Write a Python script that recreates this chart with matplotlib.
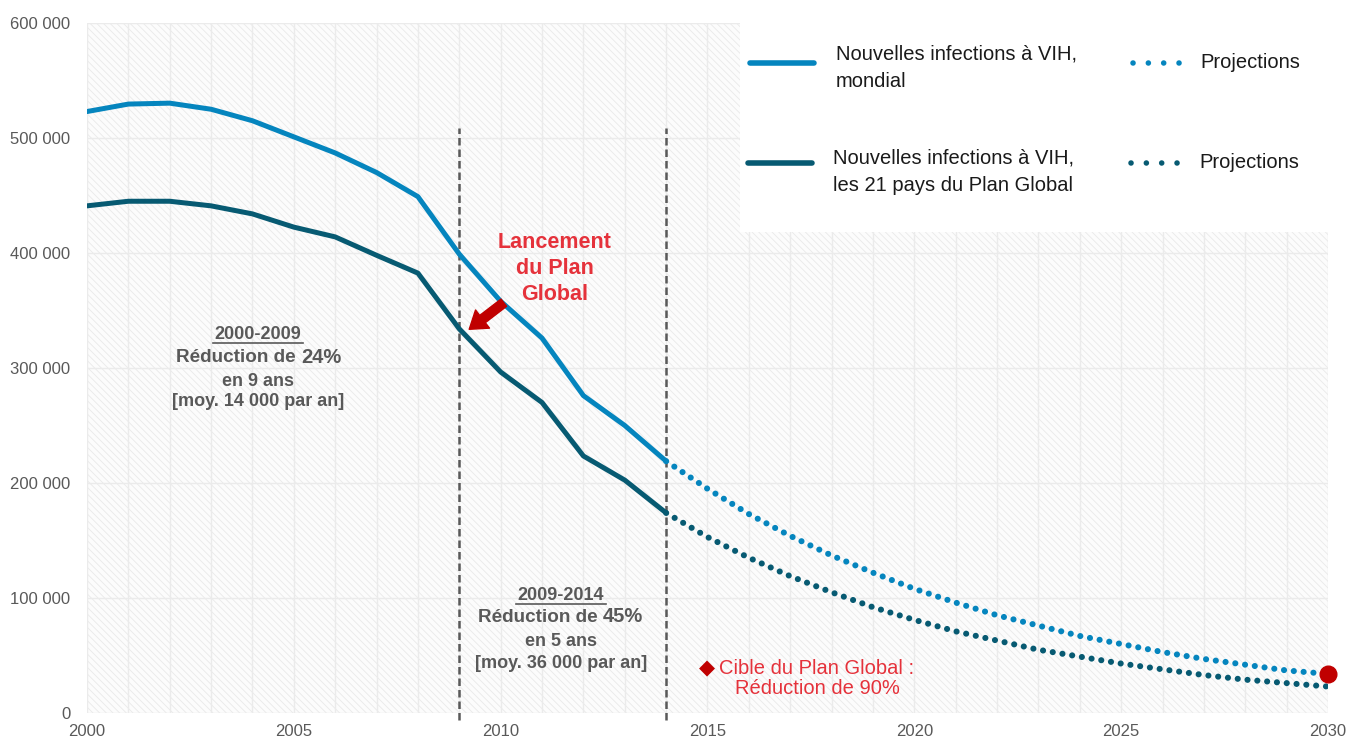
import matplotlib
matplotlib.use("Agg")
import matplotlib.pyplot as plt
from matplotlib.patches import Rectangle, FancyArrowPatch
from matplotlib.lines import Line2D
from matplotlib.ticker import FuncFormatter

plt.rcParams['font.family'] = ['Liberation Sans', 'DejaVu Sans']
plt.rcParams['hatch.linewidth'] = 0.6
plt.rcParams['hatch.color'] = '#e9e9e9'

# observed values
years_obs = list(range(2000, 2015))
world_obs = [523000, 529500, 530300, 525000, 515000, 501000, 487000, 470000,
             449000, 399000, 358000, 326000, 276000, 250000, 219000]
plan_obs = [441000, 445000, 445000, 441000, 434000, 422500, 414000, 398000,
            382500, 334000, 296500, 270000, 223500, 202500, 174000]

# projections
years_proj = list(range(2014, 2031))
world_proj = [219000, 195000, 173000, 154000, 137000, 122000, 108000, 96000,
              85000, 76000, 67000, 60000, 53000, 47000, 42000, 37000, 34000]
plan_proj = [174000, 153000, 135000, 119000, 105000, 92000, 81000, 71000,
             63000, 55000, 49000, 43000, 38000, 33000, 29000, 26000, 23000]

target_year = 2030
target_value = 34000
milestones = [2009, 2014]

blue = '#0585BE'
teal = '#075A72'
grey = '#595959'
red = '#E5323B'
darkred = '#C00000'

W, H = 1346, 740


def fx(px):
    return px / W


def fy(py):
    return 1 - py / H


fig = plt.figure(figsize=(W / 100, H / 100), dpi=100)
ax = fig.add_axes([fx(87), fy(713), (1328 - 87) / W, (713 - 23) / H])

# hatched background
ax.add_patch(Rectangle((0, 0), 1, 1, transform=ax.transAxes, facecolor='#fcfcfc',
                       edgecolor='#e9e9e9', hatch='\\\\\\\\\\', lw=0, zorder=0))

ax.set_xlim(2000, 2030)
ax.set_ylim(0, 600000)
ax.set_xticks(range(2000, 2031, 5))
ax.set_yticks(range(0, 600001, 100000))
ax.set_xticks(range(2000, 2031), minor=True)
ax.yaxis.set_major_formatter(FuncFormatter(lambda v, p: '0' if v == 0 else f'{int(v):,}'.replace(',', ' ')))
ax.grid(True, which='both', axis='x', color='#ebebeb', lw=1, zorder=1)
ax.grid(True, which='major', axis='y', color='#ebebeb', lw=1, zorder=1)
ax.set_axisbelow(True)
for s in ax.spines.values():
    s.set_visible(False)
ax.tick_params(which='both', length=0)
ax.tick_params(axis='y', pad=12, labelsize=12, labelcolor=grey)
ax.tick_params(axis='x', pad=8, labelsize=12, labelcolor=grey)

# milestone lines
ax.vlines(milestones, -6000, 508700, colors=grey, linestyles=(0, (3, 1.6)), lw=1.8,
          clip_on=False, zorder=3)

ax.plot(years_obs, world_obs, color=blue, lw=3.6, solid_capstyle='round', zorder=4)
ax.plot(years_obs, plan_obs, color=teal, lw=3.6, solid_capstyle='round', zorder=4)
ax.plot(years_proj, world_proj, color=blue, lw=4.4, ls=(0, (0.01, 1.6)),
        dash_capstyle='round', zorder=4)
ax.plot(years_proj, plan_proj, color=teal, lw=4.4, ls=(0, (0.01, 1.6)),
        dash_capstyle='round', zorder=4)
ax.plot([target_year], [target_value], 'o', color=darkred, ms=12, clip_on=False, zorder=5)

# legend box
fig.patches.append(Rectangle((fx(740), fy(232)), fx(1328) - fx(740), fy(18) - fy(232),
                             transform=fig.transFigure, facecolor='white', edgecolor='none',
                             zorder=6))
fig.lines.append(Line2D([fx(750), fx(814)], [fy(63), fy(63)], transform=fig.transFigure,
                        color=blue, lw=4, solid_capstyle='round', zorder=7))
fig.lines.append(Line2D([fx(748), fx(812)], [fy(163), fy(163)], transform=fig.transFigure,
                        color=teal, lw=4, solid_capstyle='round', zorder=7))
fig.lines.append(Line2D([fx(1133), fx(1181)], [fy(63), fy(63)], transform=fig.transFigure,
                        color=blue, lw=4, ls=(0, (0.01, 2.75)), dash_capstyle='round', zorder=7))
fig.lines.append(Line2D([fx(1131), fx(1179)], [fy(163), fy(163)], transform=fig.transFigure,
                        color=teal, lw=4, ls=(0, (0.01, 2.75)), dash_capstyle='round', zorder=7))
leg_kw = dict(fontsize=14.5, color='#1a1a1a', va='center', ha='left', zorder=8, linespacing=1.55)
fig.text(fx(836), fy(68), 'Nouvelles infections à VIH,\nmondial', **leg_kw)
fig.text(fx(833), fy(172), 'Nouvelles infections à VIH,\nles 21 pays du Plan Global', **leg_kw)
fig.text(fx(1200), fy(63), 'Projections', **leg_kw)
fig.text(fx(1199), fy(163), 'Projections', **leg_kw)

# period annotations
note_kw = dict(fontsize=13, color=grey, fontweight='bold', va='center', zorder=8)


def period(cx, ys, label, split_x, pct, line3, line4, ul):
    fig.text(fx(cx), fy(ys[0]), label, ha='center', **note_kw)
    fig.lines.append(Line2D([fx(ul[0]), fx(ul[1])], [fy(ys[0] + 9), fy(ys[0] + 9)],
                            transform=fig.transFigure, color=grey, lw=1.2))
    kw = dict(note_kw)
    kw['fontsize'] = 13.6
    fig.text(fx(split_x), fy(ys[1]), 'Réduction de', ha='right', **kw)
    kw['fontsize'] = 14.5
    fig.text(fx(split_x + 5), fy(ys[1] - 1), pct, ha='left', **kw)
    fig.text(fx(cx), fy(ys[2]), line3, ha='center', **note_kw)
    fig.text(fx(cx), fy(ys[3]), line4, ha='center', **note_kw)


period(258, [334, 358, 382, 402], '2000-2009', 296, '24%', 'en 9 ans',
       '[moy. 14 000 par an]', (213, 303))
period(561, [595, 618, 642, 663], '2009-2014', 598, '45%', 'en 5 ans',
       '[moy. 36 000 par an]', (516, 606))

# launch annotation
for txt, py in [('Lancement', 242), ('du Plan', 268), ('Global', 295)]:
    fig.text(fx(555), fy(py), txt, ha='center', va='center', fontsize=15.5,
             fontweight='bold', color=red, zorder=8)
fig.patches.append(FancyArrowPatch((fx(506), fy(301)), (fx(467), fy(331)),
                                   transform=fig.transFigure, color=darkred,
                                   arrowstyle='simple,head_width=1.5,head_length=1.1,tail_width=0.6',
                                   mutation_scale=11, zorder=8))

# target annotation
fig.text(fx(707), fy(668), '◆', ha='center', va='center', fontsize=15, color=darkred,
         family='DejaVu Sans')
fig.text(fx(719), fy(668), 'Cible du Plan Global :', ha='left', va='center',
         fontsize=14.5, color=red)
fig.text(fx(817), fy(689), 'Réduction de 90%', ha='center', va='center',
         fontsize=14.5, color=red)

fig.savefig('out.png', dpi=100)
